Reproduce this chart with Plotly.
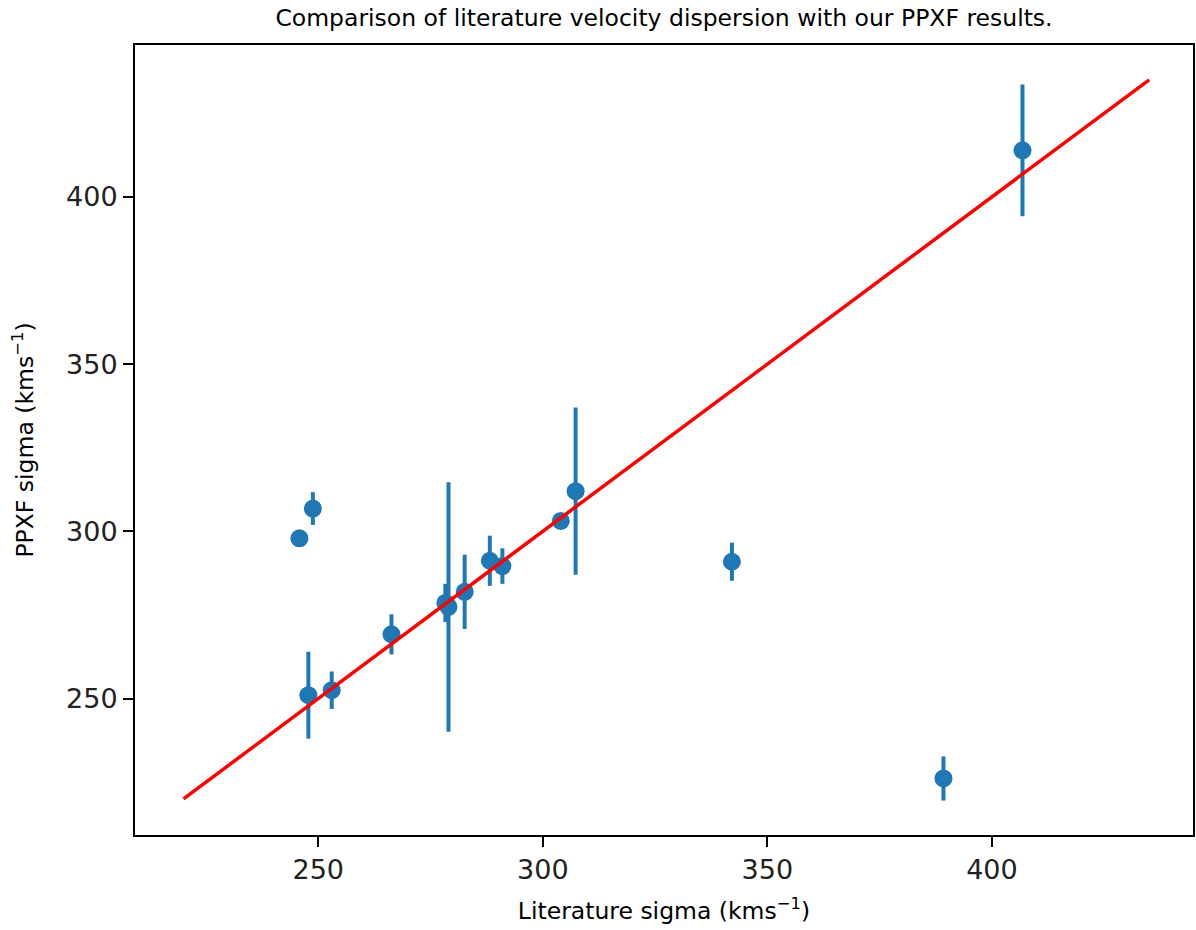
import plotly.graph_objects as go

# Data
lit_sigma = [245.8, 248.8, 247.8, 253.0, 266.3, 278.3, 279.0, 282.6, 288.2, 291.0, 304.0, 307.3, 342.1, 389.2, 406.8]
ppxf_sigma = [297.9, 306.8, 251.0, 252.5, 269.2, 278.6, 277.4, 281.9, 291.2, 289.6, 303.1, 312.0, 290.9, 226.1, 413.9]
ppxf_err = [1.0, 4.9, 13.0, 5.6, 6.0, 5.7, 37.3, 11.1, 7.5, 5.3, 1.0, 25.0, 5.7, 6.6, 19.7]
one_to_one = [220, 435]

x_ticks = [250, 300, 350, 400]
y_ticks = [250, 300, 350, 400]

blue = "#1f77b4"
font_family = "DejaVu Sans"
label_size = 23.5

fig = go.Figure()
fig.add_trace(go.Scatter(
    x=lit_sigma, y=ppxf_sigma, mode="markers",
    marker=dict(color=blue, size=18, line=dict(width=0)),
    error_y=dict(type="data", array=ppxf_err, visible=True, color=blue, thickness=4, width=0),
    showlegend=False,
))
fig.add_trace(go.Scatter(
    x=one_to_one, y=one_to_one, mode="lines",
    line=dict(color="red", width=3.5), showlegend=False,
))

axis_common = dict(
    showline=True, linecolor="black", linewidth=2, mirror=True,
    ticks="outside", ticklen=10, tickwidth=2, tickcolor="black",
    showgrid=False, zeroline=False,
    tickfont=dict(family=font_family, size=27, color="#222222"),
)

fig.update_layout(
    width=1196, height=930,
    margin=dict(l=135, r=1, t=45, b=95),
    paper_bgcolor="white", plot_bgcolor="white",
    font=dict(family=font_family, color="black"),
    title=dict(
        text="Comparison of literature velocity dispersion with our PPXF results.",
        x=0.5, xref="paper", xanchor="center",
        y=1 - 18 / 930, yref="container", yanchor="middle",
        font=dict(family=font_family, size=label_size, color="black"),
    ),
    xaxis=dict(
        range=[209.2, 444.76], tickvals=x_ticks, ticktext=[str(v) for v in x_ticks],
        title=dict(text="Literature sigma (kms<sup>−1</sup>)", font=dict(family=font_family, size=label_size, color="black"), standoff=18),
        **axis_common,
    ),
    yaxis=dict(
        range=[209.2, 445.4], tickvals=y_ticks, ticktext=[str(v) for v in y_ticks],
        title=dict(text="PPXF sigma (kms<sup>−1</sup>)", font=dict(family=font_family, size=label_size, color="black"), standoff=26),
        **axis_common,
    ),
)

fig.write_html("out.html")
